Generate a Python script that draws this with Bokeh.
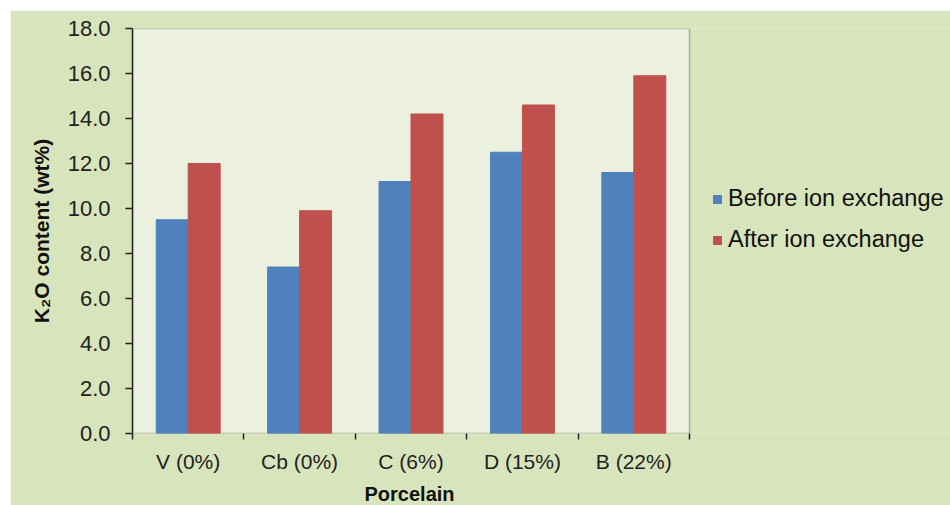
from bokeh.plotting import figure
from bokeh.models import (Range1d, FixedTicker, NumeralTickFormatter, Legend, LegendItem,
                          ColumnDataSource, BoxAnnotation, Title, Spacer)
from bokeh.layouts import column, row
from bokeh.transform import dodge
from bokeh.embed import file_html
from bokeh.resources import INLINE

categories = ["V (0%)", "Cb (0%)", "C (6%)", "D (15%)", "B (22%)"]
before = [9.5, 7.4, 11.2, 12.5, 11.6]
after = [12.0, 9.9, 14.2, 14.6, 15.9]
series_names = ["Before ion exchange", "After ion exchange"]
y_ticks = [0, 2, 4, 6, 8, 10, 12, 14, 16, 18]

n = len(categories)
xpos = [i + 0.5 for i in range(n)]
src = ColumnDataSource(dict(x=xpos, before=before, after=after, cat=categories))

# the frame spans the plot area plus the legend area; the plot area is 557 of 818 px
x_end = n * 818 / 557

p = figure(frame_width=818, frame_height=405, output_backend="svg", toolbar_location=None,
           x_range=Range1d(0, x_end), y_range=Range1d(0, 18),
           min_border_left=122, min_border_right=0, min_border_top=18, min_border_bottom=85)

p.border_fill_color = "#D8E4BC"
p.background_fill_color = "#D8E4BC"
p.outline_line_color = None
p.grid.visible = False

area = BoxAnnotation(left=0, right=n, bottom=0, top=18, fill_color="#EBF1DE", fill_alpha=1,
                     line_color="#222222", line_width=1.5, level="underlay")
p.add_layout(area)

bw = 0.287
r1 = p.vbar(x=dodge("x", -bw / 2), top="before", width=bw, source=src, color="#4F81BD")
r2 = p.vbar(x=dodge("x", bw / 2), top="after", width=bw, source=src, color="#C0504D")

# x axis
xa = p.xaxis[0]
xa.ticker = FixedTicker(ticks=xpos, minor_ticks=list(range(n + 1)))
xa.major_label_overrides = {x: c for x, c in zip(xpos, categories)}
xa.major_tick_out = 0
xa.major_tick_in = 0
xa.minor_tick_out = 6
xa.minor_tick_in = 0
xa.minor_tick_line_color = "#222222"
xa.minor_tick_line_width = 1.5
xa.axis_line_color = None
xa.major_label_text_font = "Liberation Sans"
xa.major_label_text_font_size = "21px"
xa.major_label_text_color = "#222222"
xa.major_label_standoff = 10

# x axis title, centred under the plot area
p.add_layout(Title(text="Porcelain", align="left", offset=232, standoff=10,
                   text_font="Liberation Sans", text_font_style="bold",
                   text_font_size="20px", text_color="#111111"), "below")

# y axis
ya = p.yaxis[0]
ya.ticker = FixedTicker(ticks=y_ticks, minor_ticks=[])
ya.formatter = NumeralTickFormatter(format="0.0")
ya.major_tick_out = 7
ya.major_tick_in = 0
ya.major_tick_line_color = "#222222"
ya.major_tick_line_width = 1.5
ya.axis_line_color = "#222222"
ya.axis_line_width = 1.5
ya.major_label_text_font = "Liberation Sans"
ya.major_label_text_font_size = "22px"
ya.major_label_text_color = "#222222"
ya.major_label_standoff = 15
ya.axis_label = "K\u2082O content (wt%)"
ya.axis_label_text_font = "Liberation Sans"
ya.axis_label_text_font_style = "bold"
ya.axis_label_text_font_size = "21px"
ya.axis_label_text_color = "#111111"
ya.axis_label_standoff = 12

legend = Legend(items=[LegendItem(label=series_names[0], renderers=[r1]),
                       LegendItem(label=series_names[1], renderers=[r2])],
                location=(580, 180), orientation="vertical")
legend.glyph_width = 10
legend.glyph_height = 10
legend.label_height = 26
legend.spacing = 14
legend.padding = 0
legend.margin = 0
legend.label_standoff = 6
legend.label_text_font = "Liberation Sans"
legend.label_text_font_size = "23.5px"
legend.label_text_color = "#111111"
legend.border_line_alpha = 0
legend.background_fill_alpha = 0
p.add_layout(legend, "center")

page = column(Spacer(width=10, height=10), row(Spacer(width=10, height=10), p))

open("out.html", "w").write(file_html(page, INLINE))
